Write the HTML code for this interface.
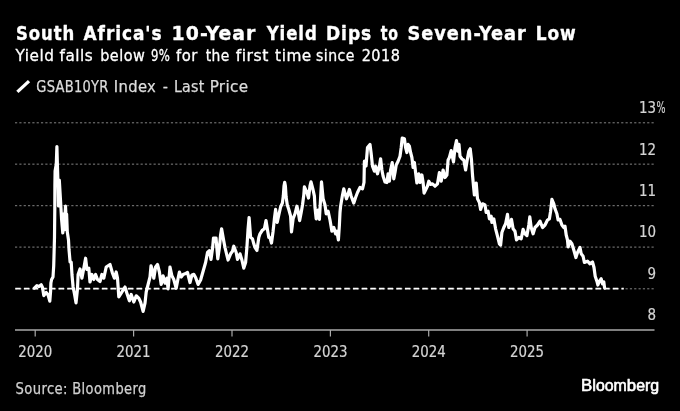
<!DOCTYPE html>
<html lang="en">
<head>
<meta charset="utf-8">
<title>South Africa's 10-Year Yield Dips to Seven-Year Low</title>
<style>
html,body{margin:0;padding:0;background:#000;}
body{width:680px;height:411px;overflow:hidden;position:relative;}
svg{position:absolute;left:0;top:0;display:block;}
text{font-family:"DejaVu Sans Condensed","DejaVu Sans","Liberation Sans",sans-serif;white-space:pre;}
.title,.sub,.legend,.source,.ax text{paint-order:stroke;stroke-linejoin:round;}
.title{stroke:#fff;stroke-width:0.35px;}
.sub{stroke:#ffffff;stroke-width:0.3px;}
.legend{stroke:#dcdcdc;stroke-width:0.25px;}
.source{stroke:#cfcfcf;stroke-width:0.25px;}
.ax text{stroke:#d4d4d4;stroke-width:0.2px;}
.title{font-size:19.8px;font-weight:bold;letter-spacing:1.0px;}
.sub{font-size:16.6px;letter-spacing:0.5px;}
.legend{font-size:15.2px;letter-spacing:0.3px;}
.source{font-size:15.0px;letter-spacing:0.4px;}
.ax text{font-size:15.5px;fill:#d4d4d4;}
.logo{font-family:"Liberation Sans",sans-serif;font-weight:normal;stroke:#fff;stroke-width:0.6px;stroke-linejoin:round;font-size:16.0px;letter-spacing:0px;}
</style>
</head>
<body>
<svg width="680" height="411" viewBox="0 0 680 411">
  <rect width="680" height="411" fill="#000"/>
  <text class="title" y="40.4" fill="#ffffff"><tspan x="16.0" textLength="59.14" lengthAdjust="spacingAndGlyphs">South</tspan> <tspan x="83.49" textLength="79.06" lengthAdjust="spacingAndGlyphs">Africa&#x27;s</tspan> <tspan x="171.59" textLength="84.89" lengthAdjust="spacingAndGlyphs">10-Year</tspan> <tspan x="266.68" textLength="50.98" lengthAdjust="spacingAndGlyphs">Yield</tspan> <tspan x="325.96" textLength="46.23" lengthAdjust="spacingAndGlyphs">Dips</tspan> <tspan x="380.8" textLength="18.05" lengthAdjust="spacingAndGlyphs">to</tspan> <tspan x="407.42" textLength="119.36" lengthAdjust="spacingAndGlyphs">Seven-Year</tspan> <tspan x="535.71" textLength="40.95" lengthAdjust="spacingAndGlyphs">Low</tspan></text>
  <text class="sub" y="61.1" fill="#ffffff"><tspan x="15.51" textLength="38.92" lengthAdjust="spacingAndGlyphs">Yield</tspan> <tspan x="59.6" textLength="33.63" lengthAdjust="spacingAndGlyphs">falls</tspan> <tspan x="100.23" textLength="45.12" lengthAdjust="spacingAndGlyphs">below</tspan> <tspan x="151.02" textLength="19.33" lengthAdjust="spacingAndGlyphs">9%</tspan> <tspan x="175.96" textLength="21.87" lengthAdjust="spacingAndGlyphs">for</tspan> <tspan x="205.67" textLength="24.18" lengthAdjust="spacingAndGlyphs">the</tspan> <tspan x="235.69" textLength="33.24" lengthAdjust="spacingAndGlyphs">first</tspan> <tspan x="275.14" textLength="36.7" lengthAdjust="spacingAndGlyphs">time</tspan> <tspan x="316.04" textLength="38.89" lengthAdjust="spacingAndGlyphs">since</tspan> <tspan x="361.7" textLength="38.73" lengthAdjust="spacingAndGlyphs">2018</tspan></text>
  <line x1="17.4" y1="91.9" x2="29.0" y2="81.1" stroke="#fff" stroke-width="3.3"/>
  <text class="legend" y="92.1" fill="#dcdcdc"><tspan x="36.27" textLength="72.43" lengthAdjust="spacingAndGlyphs">GSAB10YR</tspan> <tspan x="113.85" textLength="42.27" lengthAdjust="spacingAndGlyphs">Index</tspan> <tspan x="162.75" textLength="5.5" lengthAdjust="spacingAndGlyphs">-</tspan> <tspan x="173.91" textLength="30.78" lengthAdjust="spacingAndGlyphs">Last</tspan> <tspan x="209.67" textLength="38.66" lengthAdjust="spacingAndGlyphs">Price</tspan></text>
  <g stroke="#838383" stroke-width="1.0" stroke-dasharray="2.2 2.13" fill="none">
    <line x1="15" y1="122.8" x2="654.5" y2="122.8"/>
    <line x1="15" y1="164.15" x2="654.5" y2="164.15"/>
    <line x1="15" y1="205.7" x2="654.5" y2="205.7"/>
    <line x1="15" y1="247.1" x2="654.5" y2="247.1"/>
    <line x1="15" y1="288.8" x2="654.5" y2="288.8"/>
  </g>
  <line x1="15.3" y1="288.55" x2="623.8" y2="288.55" stroke="#fff" stroke-width="1.7" stroke-dasharray="5.4 3.26" stroke-dashoffset="0"/>
  <line x1="15" y1="330.1" x2="654.5" y2="330.1" stroke="#aaaaaa" stroke-width="1.5"/>
  <g stroke="#aaaaaa" stroke-width="1.2">
    <line x1="35.2" y1="330.1" x2="35.2" y2="336.5"/>
    <line x1="133.6" y1="330.1" x2="133.6" y2="336.5"/>
    <line x1="232" y1="330.1" x2="232" y2="336.5"/>
    <line x1="330.4" y1="330.1" x2="330.4" y2="336.5"/>
    <line x1="428.7" y1="330.1" x2="428.7" y2="336.5"/>
    <line x1="527.1" y1="330.1" x2="527.1" y2="336.5"/>
  </g>
  <path d="M34.4,288.1 L36.9,285.6 L39.0,286.5 L41.2,284.8 L42.5,287.5 L43.8,295.6 L46.2,292.5 L48.1,295.0 L49.8,301.2 L50.6,291.0 L50.9,283.0 L51.6,279.5 L53.0,277.0 L53.7,266.0 L54.1,252.0 L54.5,237.0 L54.8,208.0 L54.9,185.0 L55.1,171.0 L56.3,164.0 L56.9,146.5 L57.4,165.0 L58.2,190.0 L58.5,206.0 L59.3,180.0 L60.5,200.0 L61.5,218.0 L62.8,233.0 L63.5,214.0 L64.3,230.0 L65.5,206.0 L66.3,222.0 L66.6,214.0 L67.3,232.0 L68.5,240.0 L69.0,249.5 L70.1,262.0 L71.2,262.0 L72.0,275.0 L73.1,287.0 L74.5,294.0 L76.0,302.8 L77.5,288.8 L78.1,274.5 L80.0,268.9 L81.9,278.2 L83.8,268.2 L85.6,258.2 L86.9,269.5 L88.8,268.2 L90.0,282.0 L91.9,274.5 L93.8,279.5 L95.6,274.5 L97.5,279.5 L100.0,281.5 L101.9,274.5 L103.8,278.2 L106.2,267.0 L110.0,264.5 L112.5,273.2 L114.4,278.2 L116.2,272.0 L117.5,278.2 L118.8,297.0 L121.2,293.2 L125.0,287.0 L126.9,293.2 L129.4,300.8 L131.2,294.5 L133.8,302.0 L136.2,295.8 L138.8,298.2 L140.6,302.0 L143.1,311.4 L145.0,303.2 L146.2,292.0 L148.1,284.5 L150.0,277.0 L151.0,265.8 L152.5,270.8 L153.8,278.2 L155.6,267.0 L157.5,264.5 L159.4,272.0 L161.2,284.5 L163.1,275.8 L165.0,283.2 L166.9,278.2 L168.1,288.9 L170.0,267.0 L171.9,275.8 L173.8,279.5 L176.2,288.2 L178.1,278.2 L179.4,272.0 L181.2,277.0 L183.1,274.5 L185.0,273.8 L187.5,272.5 L190.0,282.5 L191.9,275.0 L193.8,274.4 L195.6,277.5 L198.1,284.4 L200.6,280.0 L203.1,271.2 L205.6,262.5 L207.5,252.5 L209.4,250.6 L211.0,259.4 L212.5,248.8 L213.5,238.0 L216.0,238.0 L217.8,258.8 L219.4,247.5 L220.6,235.0 L221.6,228.8 L223.8,241.2 L225.0,247.5 L226.2,252.5 L228.1,260.0 L230.6,253.8 L232.5,251.2 L233.8,246.2 L236.2,252.5 L237.5,259.4 L240.0,253.8 L241.9,260.0 L243.8,268.1 L245.6,262.5 L246.9,247.5 L248.0,230.0 L249.1,217.5 L250.6,237.5 L252.5,238.8 L253.8,243.8 L255.0,247.5 L256.9,250.5 L258.8,237.5 L260.0,233.8 L262.5,230.0 L264.4,228.8 L266.0,220.6 L267.5,230.0 L268.8,237.5 L270.0,237.5 L271.5,243.0 L273.1,231.2 L274.4,218.8 L275.6,209.4 L277.2,222.5 L278.8,215.0 L280.6,207.0 L282.4,203.0 L283.3,196.0 L284.0,186.0 L284.7,182.3 L285.4,186.0 L286.1,197.0 L287.3,205.0 L288.8,209.5 L290.6,216.0 L291.5,231.9 L293.1,218.8 L295.0,213.8 L296.9,206.2 L298.1,211.2 L299.6,220.6 L301.2,212.5 L302.5,205.0 L303.8,195.0 L304.4,186.9 L306.9,192.5 L308.5,198.0 L310.0,186.0 L311.0,181.9 L313.1,190.0 L314.4,196.2 L315.0,207.5 L316.2,218.8 L318.1,210.0 L319.4,219.4 L320.5,200.0 L321.5,181.9 L323.1,198.8 L325.0,205.0 L326.2,213.8 L328.1,211.2 L330.0,220.0 L331.9,231.2 L333.8,227.5 L335.6,233.8 L336.9,231.2 L338.4,240.0 L339.4,225.0 L340.0,212.5 L340.6,206.2 L342.5,195.0 L343.8,188.8 L346.5,198.8 L347.5,196.0 L349.4,189.5 L351.2,196.2 L353.8,203.1 L355.6,197.5 L357.5,192.5 L360.0,187.5 L362.5,188.8 L364.0,182.5 L364.4,161.2 L366.0,166.0 L367.5,147.5 L370.0,144.4 L371.2,153.8 L372.5,166.2 L374.4,171.2 L375.6,166.2 L377.5,173.8 L379.4,166.2 L380.6,158.8 L381.9,170.0 L383.1,176.2 L385.0,181.9 L386.9,182.5 L388.1,173.8 L389.4,181.2 L390.6,170.0 L392.2,162.5 L393.8,178.8 L395.0,172.5 L396.2,165.0 L398.1,161.2 L400.0,156.2 L401.2,147.5 L402.2,138.1 L404.4,138.8 L405.6,147.5 L406.9,152.5 L408.1,144.4 L409.4,146.2 L410.6,152.5 L411.9,157.5 L413.1,167.5 L414.4,162.5 L415.6,172.5 L416.9,183.0 L418.8,173.8 L420.0,182.5 L421.9,175.0 L423.1,182.5 L424.1,193.1 L426.2,188.8 L427.5,186.0 L428.8,181.2 L430.6,184.4 L432.5,183.8 L435.0,186.2 L437.5,183.8 L439.4,172.5 L441.2,181.2 L443.1,170.0 L445.0,177.5 L446.9,175.0 L448.1,160.0 L449.4,157.5 L451.2,150.6 L453.5,161.9 L455.0,147.5 L456.5,140.6 L457.8,151.2 L459.0,144.4 L460.0,156.2 L461.9,158.8 L463.8,160.0 L465.6,170.0 L467.2,160.0 L468.8,151.2 L470.2,148.8 L471.5,160.0 L472.5,175.0 L473.5,186.0 L474.4,195.0 L476.2,183.0 L477.5,198.8 L479.4,202.5 L480.6,209.4 L482.5,203.8 L485.0,205.0 L486.2,212.5 L488.1,211.2 L489.4,218.8 L491.2,216.2 L491.9,222.5 L493.8,218.8 L495.6,228.8 L497.5,236.2 L499.4,243.8 L500.6,245.0 L501.9,232.5 L503.8,227.5 L505.6,223.8 L507.5,214.4 L508.8,227.5 L510.0,225.0 L511.5,219.4 L513.1,228.8 L515.0,231.2 L516.5,240.0 L518.8,237.5 L521.2,238.8 L523.1,229.4 L525.0,233.8 L526.9,235.6 L528.8,225.0 L529.8,216.9 L531.2,227.5 L533.1,233.8 L535.0,227.5 L537.5,225.0 L540.0,221.2 L542.5,227.5 L545.0,225.0 L547.5,220.0 L549.4,218.8 L550.6,211.2 L551.9,199.4 L553.8,203.8 L555.0,208.8 L556.9,213.8 L558.1,220.0 L560.0,219.4 L561.9,225.0 L563.8,227.5 L565.0,226.2 L566.2,235.0 L567.5,240.0 L568.1,246.9 L570.0,241.2 L571.9,243.8 L573.8,250.0 L575.9,257.5 L577.5,252.5 L580.0,247.5 L581.2,253.8 L583.1,256.2 L584.4,262.5 L587.5,261.2 L590.0,263.8 L592.5,261.9 L594.0,267.5 L595.2,276.2 L596.9,281.2 L597.9,285.0 L599.4,281.2 L601.2,278.8 L602.5,283.8 L603.8,281.9 L604.6,288.1" fill="none" stroke="#fff" stroke-width="3.2" stroke-linejoin="round" stroke-linecap="round"/>
  <g class="ax">
    <text x="18.2" y="357.1" textLength="34.0" lengthAdjust="spacingAndGlyphs">2020</text>
    <text x="116.6" y="357.1" textLength="34.0" lengthAdjust="spacingAndGlyphs">2021</text>
    <text x="215.0" y="357.1" textLength="34.0" lengthAdjust="spacingAndGlyphs">2022</text>
    <text x="313.4" y="357.1" textLength="34.0" lengthAdjust="spacingAndGlyphs">2023</text>
    <text x="411.7" y="357.1" textLength="34.0" lengthAdjust="spacingAndGlyphs">2024</text>
    <text x="510.1" y="357.1" textLength="34.0" lengthAdjust="spacingAndGlyphs">2025</text>
  </g>
  <g class="ax">
    <text x="638.9" y="113.2" textLength="17.1" lengthAdjust="spacingAndGlyphs">13</text>
    <text x="638.9" y="154.55" textLength="17.1" lengthAdjust="spacingAndGlyphs">12</text>
    <text x="638.9" y="195.9" textLength="17.1" lengthAdjust="spacingAndGlyphs">11</text>
    <text x="638.9" y="237.25" textLength="17.1" lengthAdjust="spacingAndGlyphs">10</text>
    <text x="647.45" y="278.6" textLength="8.55" lengthAdjust="spacingAndGlyphs">9</text>
    <text x="647.45" y="319.95" textLength="8.55" lengthAdjust="spacingAndGlyphs">8</text>
    <text x="656.4" y="113.2" textLength="9.0" lengthAdjust="spacingAndGlyphs">%</text>
  </g>
  <text class="source" y="393.7" fill="#cfcfcf"><tspan x="15.55" textLength="52.34" lengthAdjust="spacingAndGlyphs">Source:</tspan> <tspan x="72.31" textLength="74.27" lengthAdjust="spacingAndGlyphs">Bloomberg</tspan></text>
  <text class="logo" x="580.9" y="391.1" fill="#fff" textLength="78.2" lengthAdjust="spacingAndGlyphs"><tspan style="font-size:17.0px">Bl</tspan>oom<tspan style="font-size:17.0px">b</tspan>erg</text>
</svg>
</body>
</html>
